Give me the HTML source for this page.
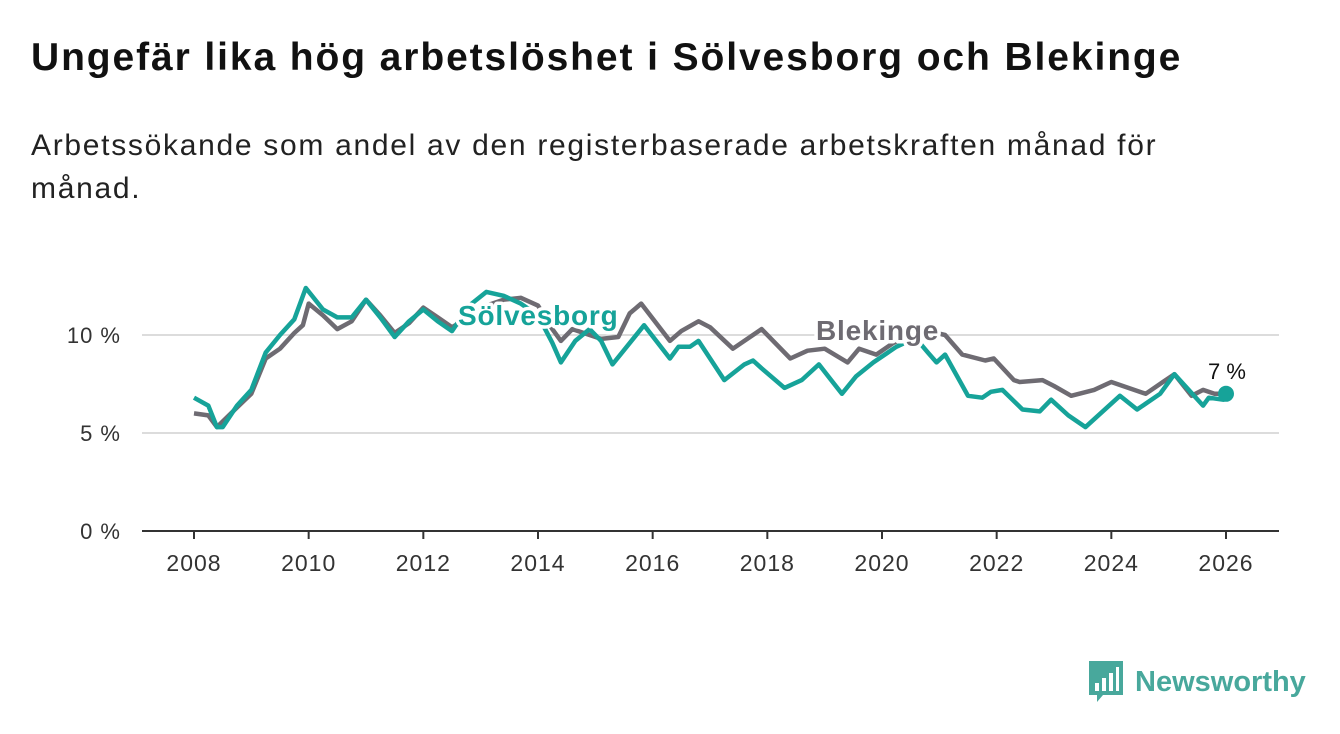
<!DOCTYPE html>
<html><head><meta charset="utf-8">
<style>
body{margin:0;background:#fff;font-family:"Liberation Sans","DejaVu Sans",sans-serif;}
#wrap{position:relative;width:1340px;height:734px;overflow:hidden;}
h1{position:absolute;left:31px;top:36px;margin:0;font-size:39px;font-weight:bold;color:#111;letter-spacing:1.9px;white-space:nowrap}
p.sub{position:absolute;left:31px;top:124px;margin:0;font-size:30px;line-height:43px;color:#222;width:1230px;letter-spacing:1.7px}
</style></head><body>
<div id="wrap">
<h1>Ungefär lika hög arbetslöshet i Sölvesborg och Blekinge</h1>
<p class="sub">Arbetssökande som andel av den registerbaserade arbetskraften månad för månad.</p>
<svg id="chart" width="1340" height="734" style="position:absolute;left:0;top:0"></svg>
<div style="position:absolute;left:1089px;top:661px;display:flex;align-items:center">
<svg width="36" height="42"><path d="M0 0H34V34H14L8 41V34H0Z" fill="#48a89c"/><rect x="6" y="22" width="4" height="8" fill="#fff"/><rect x="13" y="17" width="4" height="13" fill="#fff"/><rect x="20" y="12" width="4" height="18" fill="#fff"/><rect x="27" y="6" width="3" height="24" fill="#fff"/></svg>
<span style="font-size:29px;font-weight:bold;color:#48a89c;margin-left:10px">Newsworthy</span>
</div>
</div>
<script>
const blekYears=[2008,2008.25,2008.4,2008.75,2009,2009.25,2009.5,2009.75,2009.9,2010,2010.25,2010.5,2010.75,2011,2011.25,2011.5,2011.75,2012,2012.25,2012.5,2012.8,2013.1,2013.4,2013.7,2014,2014.25,2014.4,2014.6,2014.9,2015.1,2015.4,2015.6,2015.8,2016.3,2016.5,2016.8,2017,2017.4,2017.9,2018.4,2018.7,2019,2019.4,2019.6,2019.9,2020.2,2020.5,2020.8,2021.1,2021.4,2021.8,2021.95,2022.3,2022.4,2022.8,2023.0,2023.3,2023.7,2024,2024.6,2024.9,2025.1,2025.4,2025.6,2025.8,2026];
const blekVals=[6.0,5.9,5.3,6.3,7.0,8.8,9.3,10.1,10.5,11.6,11.0,10.3,10.7,11.8,11.0,10.1,10.6,11.4,10.9,10.4,10.9,11.5,11.8,11.9,11.5,10.3,9.7,10.3,10.0,9.8,9.9,11.1,11.6,9.7,10.2,10.7,10.4,9.3,10.3,8.8,9.2,9.3,8.6,9.3,9.0,9.6,10.0,10.2,10.0,9.0,8.7,8.8,7.7,7.6,7.7,7.4,6.9,7.2,7.6,7.0,7.6,8.0,6.9,7.2,7.0,7.0];
const solYears=[2008,2008.25,2008.4,2008.5,2008.75,2009,2009.25,2009.5,2009.75,2009.95,2010.25,2010.5,2010.75,2011,2011.25,2011.5,2011.75,2012,2012.25,2012.5,2012.8,2013.1,2013.4,2013.7,2014,2014.25,2014.4,2014.65,2014.9,2015.1,2015.3,2015.85,2016.3,2016.45,2016.65,2016.8,2017.25,2017.6,2017.75,2017.9,2018.3,2018.6,2018.9,2019.3,2019.55,2019.85,2020.25,2020.4,2020.6,2020.8,2020.95,2021.1,2021.5,2021.75,2021.9,2022.1,2022.45,2022.75,2022.95,2023.25,2023.55,2024.15,2024.45,2024.85,2025.1,2025.6,2025.7,2025.95,2026];
const solVals=[6.8,6.4,5.3,5.3,6.4,7.2,9.1,10.0,10.8,12.4,11.3,10.9,10.9,11.8,10.9,9.9,10.7,11.3,10.7,10.2,11.5,12.2,12.0,11.6,11.0,9.6,8.6,9.7,10.3,9.7,8.5,10.5,8.8,9.4,9.4,9.7,7.7,8.5,8.7,8.3,7.3,7.7,8.5,7.0,7.9,8.6,9.4,9.6,9.8,9.1,8.6,9.0,6.9,6.8,7.1,7.2,6.2,6.1,6.7,5.9,5.3,6.9,6.2,7.0,8.0,6.4,6.8,6.7,7.0];
const yTicks=[0,5,10];
const xTicks=[2008,2010,2012,2014,2016,2018,2020,2022,2024,2026];
const NS="http://www.w3.org/2000/svg";
const svg=document.getElementById('chart');
const x=v=>194+(v-2008)*(1032/18);
const y=v=>531-v*19.6;
function mk(t,a){const e=document.createElementNS(NS,t);for(const k in a)e.setAttribute(k,a[k]);svg.appendChild(e);return e;}
yTicks.forEach(t=>{
  if(t>0){const g=mk('line',{x1:142,x2:1279,y1:y(t),y2:y(t),stroke:'#dcdcdc','stroke-width':2});
  
  }
  const l=mk('text',{x:121,y:y(t)+8,'text-anchor':'end','font-size':22,'letter-spacing':1,fill:'#333','font-family':'Liberation Sans, sans-serif'});
  l.textContent=t+' %';
  
  
});
const ax=mk('line',{x1:142,x2:1279,y1:531,y2:531,stroke:'#333','stroke-width':2});


xTicks.forEach(t=>{
  const tk=mk('line',{x1:x(t),x2:x(t),y1:531,y2:539,stroke:'#333','stroke-width':2});
  
  
  const l=mk('text',{x:x(t),y:571,'text-anchor':'middle','font-size':23,'letter-spacing':1,fill:'#333','font-family':'Liberation Sans, sans-serif'});
  l.textContent=t;
  
  
});
function line(ys,vs,c,name){
  const d=ys.map((t,i)=>(i?'L':'M')+x(t).toFixed(1)+' '+y(vs[i]).toFixed(1)).join('');
  const p=mk('path',{d:d,fill:'none',stroke:c,'stroke-width':4.5,'stroke-linejoin':'round'});
  
  
}
line(blekYears,blekVals,'#6e6b72','line-blekinge');
line(solYears,solVals,'#16a399','line-solvesborg');
function lab(txt,xx,yy,c,name){
  const t=mk('text',{x:xx,y:yy,'font-size':28,'font-weight':'bold','letter-spacing':0.8,fill:c,stroke:'#fff','stroke-width':7,'paint-order':'stroke','stroke-linejoin':'round','font-family':'Liberation Sans, sans-serif'});
  t.textContent=txt;
  
  
}
lab('Sölvesborg',458,325,'#16a399','label-solvesborg');
lab('Blekinge',816,340,'#6e6b72','label-blekinge');
const lv=solVals[solVals.length-1];
const dot=mk('circle',{cx:x(solYears[solYears.length-1]),cy:y(lv),r:8,fill:'#16a399'});


const vl=mk('text',{x:1227,y:y(lv)-15,'text-anchor':'middle','font-size':22,fill:'#111','font-family':'Liberation Sans, sans-serif'});
vl.textContent=Math.round(lv)+' %';


</script>
</body></html>
